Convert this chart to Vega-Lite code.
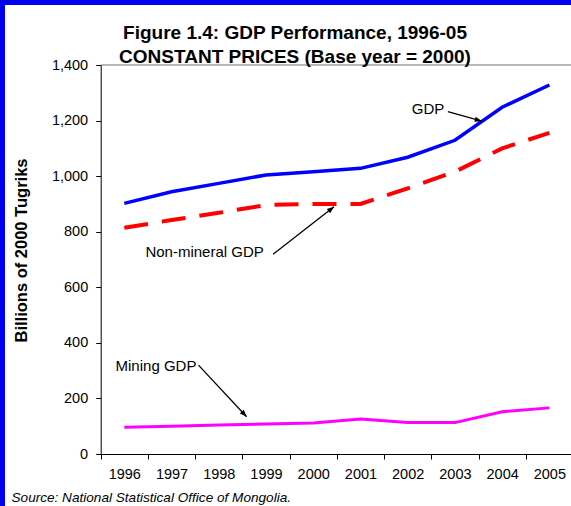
{
  "$schema": "https://vega.github.io/schema/vega-lite/v6.json",
  "width": 566,
  "height": 501,
  "autosize": {"type": "none"},
  "padding": {"left": 5, "top": 5, "right": 0, "bottom": 0},
  "background": "#0000f0",
  "config": {
    "view": {"fill": "#ffffff", "stroke": null},
    "font": "Liberation Sans"
  },
  "title": {
    "text": ["Figure 1.4: GDP Performance, 1996-05", "CONSTANT PRICES (Base year = 2000)"],
    "font": "Liberation Sans",
    "fontSize": 19,
    "fontWeight": "bold",
    "color": "#000000",
    "lineHeight": 24,
    "anchor": "middle",
    "frame": "group",
    "offset": -62,
    "dx": 7
  },
  "datasets": {
    "series": [
      {"year": 1996, "series": "GDP", "value": 902},
      {"year": 1997, "series": "GDP", "value": 944},
      {"year": 1998, "series": "GDP", "value": 974},
      {"year": 1999, "series": "GDP", "value": 1004},
      {"year": 2000, "series": "GDP", "value": 1016},
      {"year": 2001, "series": "GDP", "value": 1028},
      {"year": 2002, "series": "GDP", "value": 1068},
      {"year": 2003, "series": "GDP", "value": 1129},
      {"year": 2004, "series": "GDP", "value": 1248},
      {"year": 2005, "series": "GDP", "value": 1328},
      {"year": 1996, "series": "Non-mineral GDP", "value": 814},
      {"year": 1997, "series": "Non-mineral GDP", "value": 842},
      {"year": 1998, "series": "Non-mineral GDP", "value": 868},
      {"year": 1999, "series": "Non-mineral GDP", "value": 896},
      {"year": 2000, "series": "Non-mineral GDP", "value": 900},
      {"year": 2001, "series": "Non-mineral GDP", "value": 900},
      {"year": 2002, "series": "Non-mineral GDP", "value": 956},
      {"year": 2003, "series": "Non-mineral GDP", "value": 1016},
      {"year": 2004, "series": "Non-mineral GDP", "value": 1100},
      {"year": 2005, "series": "Non-mineral GDP", "value": 1156},
      {"year": 1996, "series": "Mining GDP", "value": 96},
      {"year": 1997, "series": "Mining GDP", "value": 100},
      {"year": 1998, "series": "Mining GDP", "value": 104},
      {"year": 1999, "series": "Mining GDP", "value": 108},
      {"year": 2000, "series": "Mining GDP", "value": 112},
      {"year": 2001, "series": "Mining GDP", "value": 126},
      {"year": 2002, "series": "Mining GDP", "value": 113},
      {"year": 2003, "series": "Mining GDP", "value": 113},
      {"year": 2004, "series": "Mining GDP", "value": 152},
      {"year": 2005, "series": "Mining GDP", "value": 166}
    ],
    "notes": [
      {"label": "GDP", "tx": 2002.43, "ty": 1240, "x1": 2002.85, "y1": 1232, "x2": 2003.57, "y2": 1198},
      {"label": "Non-mineral GDP", "tx": 1997.7, "ty": 726, "x1": 1999.15, "y1": 719, "x2": 2000.44, "y2": 890},
      {"label": "Mining GDP", "tx": 1996.67, "ty": 317, "x1": 1997.57, "y1": 320, "x2": 1998.59, "y2": 134}
    ]
  },
  "layer": [
    {
      "data": {"name": "series"},
      "transform": [{"filter": "datum.series === 'GDP'"}],
      "mark": {"type": "line", "color": "#0000ff", "strokeWidth": 3.5},
      "encoding": {
        "x": {
          "field": "year", "type": "quantitative",
          "scale": {"domain": [1995.5, 2005.5], "range": [95.7, 568], "nice": false, "zero": false},
          "axis": {
            "values": [1995.5, 1996.5, 1997.5, 1998.5, 1999.5, 2000.5, 2001.5, 2002.5, 2003.5, 2004.5, 2005.5],
            "labelExpr": "datum.value < 2005 ? format(datum.value + 0.5, 'd') : ''",
            "labelOffset": 23.6,
            "offset": -52,
            "grid": false,
            "zindex": 1,
            "domainColor": "#000000",
            "domainWidth": 1,
            "tickColor": "#000000",
            "tickSize": 5,
            "labelFont": "Liberation Sans",
            "labelFontSize": 14.5,
            "labelColor": "#000000",
            "labelPadding": 8,
            "labelOverlap": false,
            "labelFlush": false,
            "title": "Source: National Statistical Office of Mongolia.",
            "titleFont": "Liberation Sans",
            "titleFontStyle": "italic",
            "titleFontWeight": "normal",
            "titleFontSize": 13.6,
            "titleColor": "#000000",
            "titleAlign": "left",
            "titleBaseline": "alphabetic",
            "titleX": 6,
            "titleY": 47
          }
        },
        "y": {
          "field": "value", "type": "quantitative",
          "scale": {"domain": [0, 1400], "range": [449, 60], "nice": false, "zero": true},
          "axis": {
            "values": [0, 200, 400, 600, 800, 1000, 1200, 1400],
            "labelExpr": "format(datum.value, ',d')",
            "offset": -95.7,
            "grid": false,
            "zindex": 1,
            "domainColor": "#000000",
            "tickColor": "#000000",
            "tickSize": 5,
            "labelFont": "Liberation Sans",
            "labelFontSize": 14.5,
            "labelColor": "#000000",
            "labelPadding": 8,
            "labelOverlap": false,
            "labelFlush": false,
            "title": "Billions of 2000 Tugriks",
            "titleFont": "Liberation Sans",
            "titleFontWeight": "bold",
            "titleFontSize": 16.5,
            "titleColor": "#000000",
            "titleAngle": -90,
            "titleAlign": "center",
            "titleBaseline": "middle",
            "titleX": -79,
            "titleY": 245
          }
        }
      }
    },
    {
      "data": {"name": "series"},
      "transform": [{"filter": "datum.series === 'Non-mineral GDP'"}],
      "mark": {"type": "line", "color": "#ff0000", "strokeWidth": 4, "strokeDash": [24, 14], "strokeCap": "butt"},
      "encoding": {
        "x": {"field": "year", "type": "quantitative"},
        "y": {"field": "value", "type": "quantitative"}
      }
    },
    {
      "data": {"name": "series"},
      "transform": [{"filter": "datum.series === 'Mining GDP'"}],
      "mark": {"type": "line", "color": "#ff00ff", "strokeWidth": 3},
      "encoding": {
        "x": {"field": "year", "type": "quantitative"},
        "y": {"field": "value", "type": "quantitative"}
      }
    },
    {
      "data": {"name": "notes"},
      "mark": {"type": "rule", "color": "#000000", "strokeWidth": 1.3},
      "encoding": {
        "x": {"field": "x1", "type": "quantitative"},
        "y": {"field": "y1", "type": "quantitative"},
        "x2": {"field": "x2"},
        "y2": {"field": "y2"}
      }
    },
    {
      "data": {"name": "notes"},
      "transform": [{"filter": "datum.label === 'GDP'"}],
      "mark": {"type": "point", "shape": "M0,0L-1,-0.38L-1,0.38Z", "filled": true, "color": "#000000", "opacity": 1, "size": 200, "angle": 15.4},
      "encoding": {
        "x": {"field": "x2", "type": "quantitative"},
        "y": {"field": "y2", "type": "quantitative"}
      }
    },
    {
      "data": {"name": "notes"},
      "transform": [{"filter": "datum.label === 'Non-mineral GDP'"}],
      "mark": {"type": "point", "shape": "M0,0L-1,-0.38L-1,0.38Z", "filled": true, "color": "#000000", "opacity": 1, "size": 200, "angle": -38.1},
      "encoding": {
        "x": {"field": "x2", "type": "quantitative"},
        "y": {"field": "y2", "type": "quantitative"}
      }
    },
    {
      "data": {"name": "notes"},
      "transform": [{"filter": "datum.label === 'Mining GDP'"}],
      "mark": {"type": "point", "shape": "M0,0L-1,-0.38L-1,0.38Z", "filled": true, "color": "#000000", "opacity": 1, "size": 200, "angle": 46.9},
      "encoding": {
        "x": {"field": "x2", "type": "quantitative"},
        "y": {"field": "y2", "type": "quantitative"}
      }
    },
    {
      "data": {"name": "notes"},
      "mark": {"type": "text", "font": "Liberation Sans", "fontSize": 15, "color": "#000000", "align": "center", "baseline": "middle"},
      "encoding": {
        "x": {"field": "tx", "type": "quantitative"},
        "y": {"field": "ty", "type": "quantitative"},
        "text": {"field": "label"}
      }
    },
    {
      "data": {"values": [{"top": 1400}]},
      "mark": {"type": "rule", "color": "#a0a0a0", "strokeWidth": 1.5},
      "encoding": {
        "y": {"field": "top", "type": "quantitative"},
        "x": {"datum": 1995.5, "type": "quantitative"},
        "x2": {"datum": 2005.5}
      }
    }
  ]
}
